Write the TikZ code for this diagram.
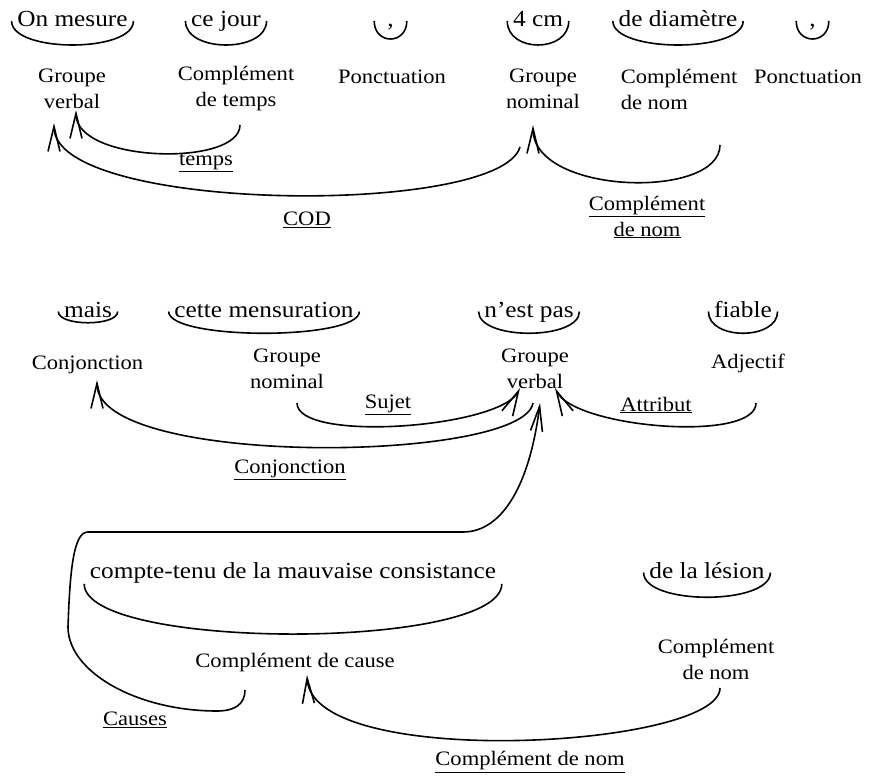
\documentclass[tikz,border=0pt]{standalone}
\usepackage{fontspec}
\setmainfont{Liberation Serif}[FakeStretch=1.1]
\usetikzlibrary{arrows.meta}

\tikzset{
  mot/.style={font=\fontsize{23}{27}\selectfont,inner xsep=5pt,inner ysep=0pt,
    text height=16pt,text depth=5pt,anchor=base},
  virgule/.style={mot,minimum width=31pt},
  role/.style={font=\fontsize{20.5}{26}\selectfont,inner sep=0pt,align=center},
  crochet/.style={to path={.. controls +(0,#1) and +(0,#1) .. (\tikztotarget)}},
  courbe/.style n args={4}{to path={.. controls +(#1,#2) and +(#3,#4) .. (\tikztotarget)}}
}

\begin{document}
\begin{tikzpicture}[x=1pt,y=-1pt,line width=1.6pt,>={Straight Barb[length=25pt,width=12pt]}]
  \useasboundingbox (0,0) rectangle (874,776);

  \node[mot]     (m1) at (72.5,26.5) {On mesure};
  \node[mot]     (m2) at (226,26.5)  {ce jour};
  \node[virgule] (m3) at (390.5,26.5) {,};
  \node[mot]     (m4) at (538,26.5)  {4 cm};
  \node[mot]     (m5) at (678,26.5)  {de diamètre};
  \node[virgule] (m6) at (812.5,26.5) {,};

  \node[role] (f1) at (72,89)  {Groupe\\verbal};
  \node[role] (f2) at (236,89) {Complément\\de temps};
  \node[role] (f3) at (392,77) {Ponctuation};
  \node[role] (f4) at (543,89) {Groupe\\nominal};
  \node[role,align=left,anchor=west] (f5) at (620,89) {Complément\\de nom};
  \node[role] (f6) at (808,77) {Ponctuation};

  \node[mot] (m7)  at (88,317)  {mais};
  \node[mot] (m8)  at (264,317) {cette mensuration};
  \node[mot] (m9)  at (529,317) {n’est pas};
  \node[mot] (m10) at (743,317) {fiable};

  \node[role] (f7)  at (87.5,365) {Conjonction};
  \node[role] (f8)  at (287,369)  {Groupe\\nominal};
  \node[role] (f9)  at (535,369)  {Groupe\\verbal};
  \node[role] (f10) at (748,363)  {Adjectif};

  \node[mot] (m11) at (293,578) {compte-tenu de la mauvaise consistance};
  \node[mot] (m12) at (707,578) {de la lésion};

  \node[role] (f11) at (295,663) {Complément de cause};
  \node[role] (f12) at (716,659) {Complément\\de nom};

  \node[role] (l1) at (206,163) {\underline{temps}};
  \node[role] (l2) at (307,220) {\underline{COD}};
  \node[role] (l3) at (647,217) {\underline{Complément}\\\underline{de nom}};
  \node[role] (l4) at (388,405) {\underline{Sujet}};
  \node[role] (l5) at (656,405) {\underline{Attribut}};
  \node[role] (l6) at (290,470) {\underline{Conjonction}};
  \node[role] (l7) at (135,720) {\underline{Causes}};
  \node[role] (l8) at (530,762) {\underline{Complément de nom}};

  \draw (m1.west) to[crochet=32] (m1.east)
        (m2.west) to[crochet=32] (m2.east)
        (m3.west) to[crochet=24] (m3.east)
        (m4.west) to[crochet=32] (m4.east)
        (m5.west) to[crochet=32] (m5.east)
        (m6.west) to[crochet=24] (m6.east)
        (m7.west) to[crochet=15] (m7.east)
        (m8.west) to[crochet=29] (m8.east)
        (m9.west) to[crochet=29] (m9.east)
        (m10.west) to[crochet=29] (m10.east)
        (m11.south west) to[crochet=67] (m11.south east)
        (m12.west) to[crochet=33] (m12.east);

  \path[->] ([shift={(4,36)}]f2.center) edge[courbe={0}{42}{0}{53}] ([shift={(4,21)}]f1.center)
        ([shift={(-23,58)}]f4.center) edge[courbe={-20}{70}{0}{90}] ([shift={(-18,34)}]f1.center)
        ([shift={(100,56)}]f5.west) edge[courbe={0}{55}{0}{70}] ([shift={(-10,36)}]f4.center)
        ([shift={(10,34)}]f8.center) edge[courbe={0}{40}{-20}{40}] ([shift={(-15,19)}]f9.center)
        ([shift={(8,40)}]f10.center) edge[courbe={0}{40}{20}{40}] ([shift={(20,19)}]f9.center)
        ([shift={(-2,34)}]f9.center) edge[courbe={-10}{60}{0}{88}] ([shift={(9.5,15)}]f7.center)
        ([shift={(4,29)}]f12.center) edge[courbe={0}{60}{5}{96}] ([shift={(12,12)}]f11.center);

  \draw[->] ([shift={(-50,27)}]f11.center)
    .. controls +(0,14) and +(18,0) .. ++(-28,21)
    .. controls +(-80,0) and +(0,45) .. ++(-149,-84)
    .. controls +(2,-60) and +(-14,0) .. ++(20,-95)
    -- ++(375,0)
    .. controls +(40,0) and +(-10,80) .. ([shift={(5,34)}]f9.center);
\end{tikzpicture}
\end{document}
